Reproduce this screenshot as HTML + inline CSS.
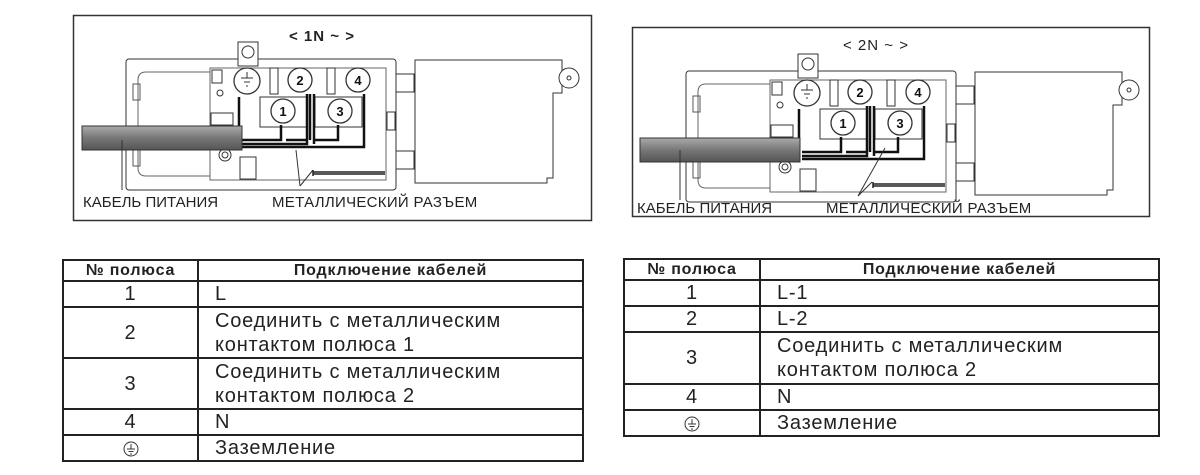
<!DOCTYPE html>
<html><head><meta charset="utf-8"><style>
html,body{margin:0;padding:0;background:#fff;width:1200px;height:475px;overflow:hidden;font-family:"Liberation Sans",sans-serif}
svg.main{position:absolute;left:0;top:0}
table{position:absolute;border-collapse:collapse;font-family:"Liberation Sans",sans-serif;color:#222}
td,th{border:2px solid #222;padding:0;font-size:20px;line-height:24px;letter-spacing:0.8px}
th{font-size:16px;font-weight:bold;height:19px;line-height:19px;letter-spacing:0.8px}
td.n{text-align:center}
td.t{padding-left:16px}
td.n svg{vertical-align:middle}
</style></head><body>
<svg class="main" width="1200" height="475" viewBox="0 0 1200 475">
<defs>
<linearGradient id="cab" x1="0" y1="0" x2="0" y2="1">
<stop offset="0" stop-color="#aaa"/><stop offset="0.5" stop-color="#777"/><stop offset="1" stop-color="#555"/>
</linearGradient>
<g id="dev" fill="none" stroke="#333" stroke-width="1">
<rect x="126" y="59" width="270" height="131" rx="3" fill="#fff"/>
<path d="M138 80 Q138 72 146 72 L210 72 L210 176 L146 176 Q138 176 138 168 Z" stroke="#666"/>
<rect x="133" y="84" width="7" height="16" stroke="#555"/>
<rect x="133" y="150" width="7" height="16" stroke="#555"/>
<rect x="238" y="42" width="20" height="24" fill="#fff"/>
<circle cx="248" cy="52" r="6"/>
<rect x="210" y="68" width="176" height="112" stroke="#666"/>
<rect x="212" y="70" width="10" height="13"/>
<circle cx="220" cy="93" r="3"/>
<rect x="211" y="113" width="22" height="12"/>
<rect x="240" y="157" width="16" height="22"/>
<circle cx="225" cy="155" r="6"/><circle cx="225" cy="155" r="3"/>
<rect x="270" y="68" width="8" height="26"/><rect x="327" y="68" width="8" height="26"/>
<rect x="260" y="97" width="47" height="30"/><rect x="315" y="97" width="47" height="30"/>
<g fill="#fff" stroke-width="1.3">
<circle cx="247" cy="81" r="13"/><circle cx="300" cy="80" r="12"/><circle cx="358" cy="80" r="12"/>
<circle cx="283" cy="111" r="12"/><circle cx="340" cy="111" r="12"/>
</g>
<path d="M241 78h12M244 82h6M246 86h2M247 72v6" stroke="#333"/>
<rect x="396" y="74" width="18" height="18"/><rect x="396" y="151" width="18" height="18"/>
<rect x="387" y="112" width="8" height="18"/>
<path d="M415 60 L562 60 L562 93 L553 93 L553 178 L547 178 L547 183 L415 183 Z" fill="#fff"/>
<circle cx="569" cy="78" r="10" fill="#fff"/><circle cx="569" cy="78" r="2"/>
<g stroke="#111" stroke-width="2.5">
<path d="M239 131 V97 M242 140 H281 V125 M242 144 H307 V94 M242 147 H364 V94"/>
<path d="M286 140 H307 M310 140 V94 M314 144 V94 M314 140 H338 V125"/>
</g>
<path d="M313 172 H385 M313 174 H385 M313 176 V170" stroke="#222" stroke-width="1.5"/>
</g>
</defs>
<rect x="73.5" y="15.5" width="518" height="205" fill="none" stroke="#333" stroke-width="1.5"/>
<use href="#dev"/>
<g font-size="13" font-weight="bold" fill="#111" text-anchor="middle">
<text x="300" y="85">2</text><text x="358" y="85">4</text><text x="283" y="116">1</text><text x="340" y="116">3</text>
</g>
<rect x="82" y="126" width="160" height="24" fill="url(#cab)" stroke="#333"/>
<path d="M122 140 V190" stroke="#333"/>
<path d="M300 186 L296 150 M300 186 L313 170" stroke="#333"/>
<text x="289" y="41" font-size="15" font-weight="bold" fill="#222" letter-spacing="1">&lt; 1N ~ &gt;</text>
<text x="83" y="207" font-size="15" fill="#222" letter-spacing="0">КАБЕЛЬ ПИТАНИЯ</text>
<text x="272" y="207" font-size="15" fill="#222" letter-spacing="0.3">МЕТАЛЛИЧЕСКИЙ РАЗЪЕМ</text>
<rect x="632.5" y="27.5" width="517" height="189" fill="none" stroke="#333" stroke-width="1.5"/>
<g transform="translate(560,12)"><use href="#dev"/>
<g font-size="13" font-weight="bold" fill="#111" text-anchor="middle">
<text x="300" y="85">2</text><text x="358" y="85">4</text><text x="283" y="116">1</text><text x="340" y="116">3</text>
</g></g>
<rect x="640" y="138" width="160" height="24" fill="url(#cab)" stroke="#333"/>
<path d="M680 150 V200" stroke="#333"/>
<path d="M858 196 L885 148 M858 196 L872 182" stroke="#333"/>
<text x="843" y="50" font-size="15" fill="#222" letter-spacing="1">&lt; 2N ~ &gt;</text>
<text x="637" y="213" font-size="15" fill="#222" letter-spacing="0">КАБЕЛЬ ПИТАНИЯ</text>
<text x="826" y="213" font-size="15" fill="#222" letter-spacing="0.3">МЕТАЛЛИЧЕСКИЙ РАЗЪЕМ</text>
</svg>

<table style="left:62px;top:259px;width:522px">
<tr><th style="width:133px">№ полюса</th><th>Подключение кабелей</th></tr>
<tr><td class="n" style="height:22px">1</td><td class="t">L</td></tr>
<tr><td class="n" style="height:49px">2</td><td class="t">Соединить с металлическим<br>контактом полюса 1</td></tr>
<tr><td class="n" style="height:49px">3</td><td class="t">Соединить с металлическим<br>контактом полюса 2</td></tr>
<tr><td class="n" style="height:22px">4</td><td class="t">N</td></tr>
<tr><td class="n" style="height:23px"><svg width="16" height="16" viewBox="0 0 16 16"><circle cx="8" cy="8" r="7" fill="none" stroke="#333"/><path d="M8 3v5M4 8h8M5.5 10.5h5M7 13h2" stroke="#333"/></svg></td><td class="t">Заземление</td></tr>
</table>

<table style="left:623px;top:258px;width:537px">
<tr><th style="width:134px">№ полюса</th><th>Подключение кабелей</th></tr>
<tr><td class="n" style="height:22px">1</td><td class="t">L-1</td></tr>
<tr><td class="n" style="height:22px">2</td><td class="t">L-2</td></tr>
<tr><td class="n" style="height:50px">3</td><td class="t">Соединить с металлическим<br>контактом полюса 2</td></tr>
<tr><td class="n" style="height:22px">4</td><td class="t">N</td></tr>
<tr><td class="n" style="height:24px"><svg width="16" height="16" viewBox="0 0 16 16"><circle cx="8" cy="8" r="7" fill="none" stroke="#333"/><path d="M8 3v5M4 8h8M5.5 10.5h5M7 13h2" stroke="#333"/></svg></td><td class="t">Заземление</td></tr>
</table>
</body></html>
